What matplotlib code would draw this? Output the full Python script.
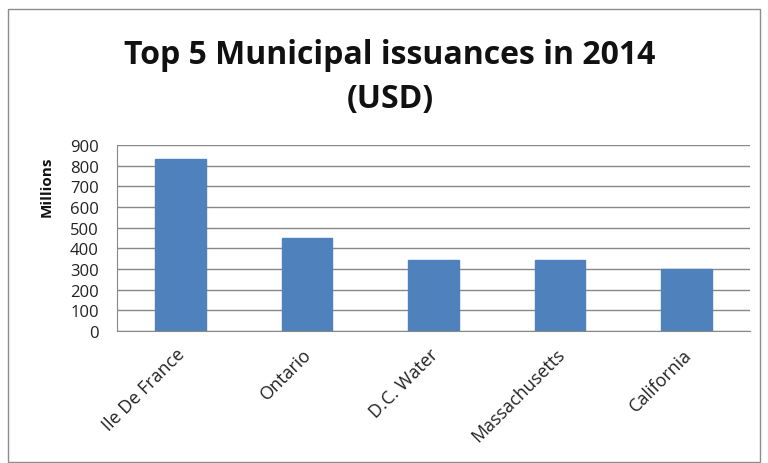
import matplotlib
matplotlib.use("Agg")
import matplotlib.pyplot as plt
from matplotlib.patches import Rectangle
from matplotlib.transforms import ScaledTranslation

categories = ["Ile De France", "Ontario", "D.C. Water", "Massachusetts", "California"]
values = [830, 450, 345, 345, 300]
yticks = [0, 100, 200, 300, 400, 500, 600, 700, 800, 900]

plt.rcParams['font.family'] = ['Open Sans', 'DejaVu Sans']

fig = plt.figure(figsize=(7.68, 4.64), dpi=100)
fig.patch.set_facecolor('white')
W, H = 768, 464
# outer chart border
fig.patches.append(Rectangle((8/W, 1 - 463/H), 752/W, 453/H, transform=fig.transFigure,
                             fill=False, edgecolor='#8c8c8c', linewidth=1.0))

left, right, top, bottom = 117, 750, 146, 332
ax = fig.add_axes([left/W, 1 - bottom/H, (right-left)/W, (bottom-top)/H])

x = list(range(len(categories)))
ax.bar(x, values, width=0.4, color='#4f81bd', edgecolor='#4f81bd', zorder=3)
ax.set_xlim(-0.5, len(categories) - 0.5)
ax.set_ylim(0, 900)
ax.set_yticks(yticks)
ax.set_yticklabels([str(v) for v in yticks], fontsize=12, color='#222222')
ax.grid(axis='y', color='#888888', linewidth=1.0, zorder=0)
ax.tick_params(axis='y', length=0, pad=13)
ax.tick_params(axis='x', length=0, pad=2)
for s in ['top', 'right']:
    ax.spines[s].set_visible(False)
ax.spines['left'].set_color('#888888')
ax.spines['bottom'].set_color('#888888')

ax.set_xticks(x)
ax.set_xticklabels(categories, rotation=45, ha='right', rotation_mode='anchor',
                   fontsize=13, color='#222222')
offset = ScaledTranslation(-3/72, -8/72, fig.dpi_scale_trans)
for lbl in ax.get_xticklabels():
    lbl.set_transform(lbl.get_transform() + offset)

fig.text(47/W, 1 - 187/H, "Millions", rotation=90, ha='center', va='center',
         fontsize=11, fontweight='bold', color='#111111')

fig.text(0.508, 1 - 55/H, "Top 5 Municipal issuances in 2014", ha='center', va='center',
         fontsize=23, fontweight='bold', color='#111111')
fig.text(0.508, 1 - 100/H, "(USD)", ha='center', va='center',
         fontsize=23, fontweight='bold', color='#111111')

fig.savefig("out.png", dpi=100)
